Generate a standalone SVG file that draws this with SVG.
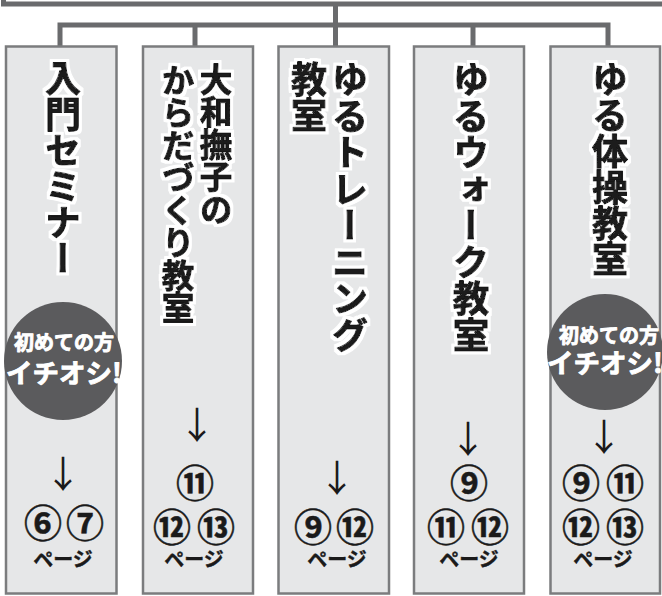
<svg xmlns="http://www.w3.org/2000/svg" width="662" height="596" viewBox="0 0 662 596">
<defs>
<filter id="halo" x="-20%" y="-5%" width="140%" height="110%">
<feMorphology in="SourceAlpha" operator="dilate" radius="3.2" result="d"/>
<feFlood flood-color="#ffffff"/>
<feComposite in2="d" operator="in" result="w"/>
<feMerge><feMergeNode in="w"/><feMergeNode in="SourceGraphic"/></feMerge>
</filter>
</defs>
<style>
.box{fill:#e6e7e8;stroke:#7b7c7e;stroke-width:2.5}
.ln{fill:none;stroke:#6a6b6d;stroke-width:5}
.vt{font-family:"Noto Sans CJK JP","Noto Sans CJK SC",sans-serif;font-weight:bold;fill:#1a1a1a;stroke:#1a1a1a;stroke-width:1.1;stroke-linejoin:round;writing-mode:vertical-rl;text-orientation:upright;filter:url(#halo)}
.badge{fill:#5b5b5d}
.bt{font-family:"Noto Sans CJK JP",sans-serif;font-weight:bold;fill:#ffffff;stroke:#ffffff;stroke-width:0.9;stroke-linejoin:round;text-anchor:middle}
.arr{font-family:"Noto Sans CJK JP",sans-serif;font-weight:normal;font-size:37px;fill:#1a1a1a;text-anchor:middle;dominant-baseline:central}
.num{font-family:"Noto Sans CJK JP",sans-serif;font-weight:bold;font-size:38px;fill:#1a1a1a;stroke:#1a1a1a;stroke-width:0.5;text-anchor:middle;dominant-baseline:central}
.pg{font-family:"Noto Sans CJK JP",sans-serif;font-weight:bold;font-size:20px;fill:#1a1a1a;stroke:#1a1a1a;stroke-width:0.4;text-anchor:middle}
</style>
<g id="connectors">
<path class="ln" d="M3.5,0 V4 H662" stroke-width="4"/>
<path class="ln" d="M335.5,4 V46"/>
<path class="ln" d="M60,46 V25 H608 V46"/>
<path class="ln" d="M195,25 V46"/>
<path class="ln" d="M473,25 V46"/>
</g>
<g id="node1">
<rect class="box" x="6" y="46.5" width="110.5" height="547"/>
<text class="vt" x="63" y="60" font-size="36">入門セミナー</text>
<circle class="badge" cx="63" cy="361" r="59"/>
<text class="bt" x="64" y="350" font-size="20">初めての方</text>
<text class="bt" x="64" y="383" font-size="26.5">イチオシ!</text>
<text class="arr" x="63" y="472">↓</text>
<text class="num" x="43" y="520">⑥</text>
<text class="num" x="85" y="520">⑦</text>
<text class="pg" x="63" y="567">ページ</text>
</g>
<g id="node2">
<rect class="box" x="143" y="46.5" width="110" height="547"/>
<text class="vt" x="216" y="63" font-size="32.5">大和撫子の</text>
<text class="vt" x="178" y="64" font-size="32.5">からだづくり教室</text>
<text class="arr" x="197" y="423">↓</text>
<text class="num" x="195" y="480">⑪</text>
<text class="num" x="172" y="524">⑫</text>
<text class="num" x="216" y="524">⑬</text>
<text class="pg" x="194" y="567">ページ</text>
</g>
<g id="node3">
<rect class="box" x="278.5" y="46.5" width="110.5" height="547"/>
<text class="vt" x="350" y="61" font-size="36.5">ゆるトレーニング</text>
<text class="vt" x="309" y="61" font-size="36">教室</text>
<text class="arr" x="337" y="476">↓</text>
<text class="num" x="313" y="524">⑨</text>
<text class="num" x="355" y="524">⑫</text>
<text class="pg" x="337" y="567">ページ</text>
</g>
<g id="node4">
<rect class="box" x="414" y="46.5" width="110" height="547"/>
<text class="vt" x="471" y="61" font-size="36.5">ゆるウォーク教室</text>
<text class="arr" x="468" y="437">↓</text>
<text class="num" x="469" y="480">⑨</text>
<text class="num" x="446" y="524">⑪</text>
<text class="num" x="490" y="524">⑫</text>
<text class="pg" x="469" y="567">ページ</text>
</g>
<g id="node5">
<rect class="box" x="550.5" y="46.5" width="109.5" height="547"/>
<text class="vt" x="610" y="61" font-size="36">ゆる体操教室</text>
<circle class="badge" cx="605" cy="352" r="58"/>
<text class="bt" x="609" y="343" font-size="20">初めての方</text>
<text class="bt" x="605" y="373" font-size="26.5">イチオシ!</text>
<text class="arr" x="604" y="435">↓</text>
<text class="num" x="581" y="480">⑨</text>
<text class="num" x="625" y="480">⑪</text>
<text class="num" x="581" y="524">⑫</text>
<text class="num" x="625" y="524">⑬</text>
<text class="pg" x="603" y="567">ページ</text>
</g>
</svg>
